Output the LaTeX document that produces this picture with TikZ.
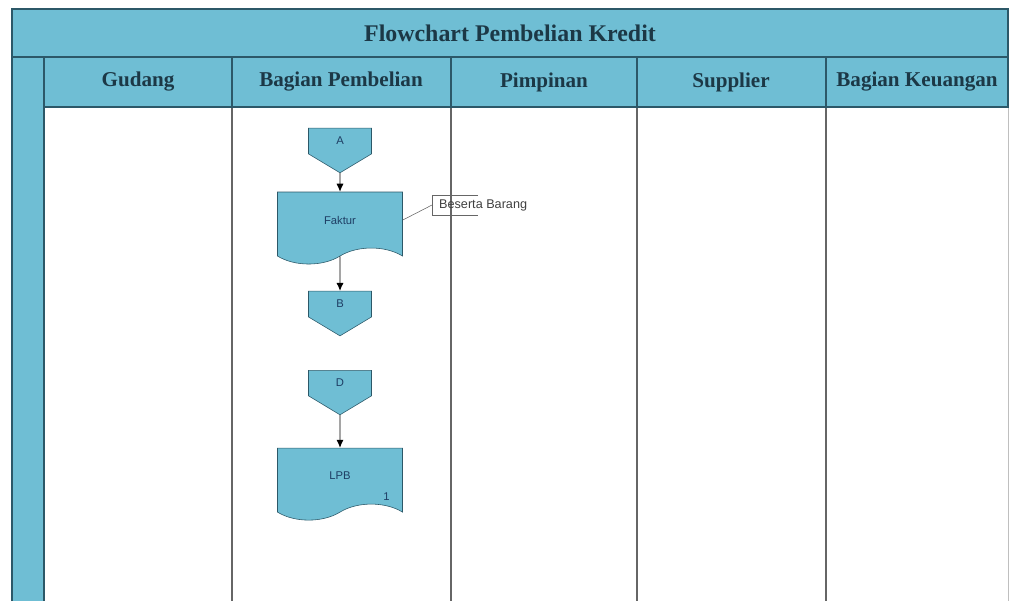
\documentclass[tikz,border=0pt]{standalone}
\usepackage{fontspec}
\setmainfont{Liberation Sans}
\newfontfamily\headfont{Liberation Serif}
\usetikzlibrary{positioning,shapes.symbols,arrows.meta}
\definecolor{laneblue}{RGB}{111,190,212}
\definecolor{laneedge}{RGB}{44,88,104}
\definecolor{headtext}{RGB}{28,56,70}
\definecolor{shapetext}{RGB}{30,62,100}

\begin{document}
\begin{tikzpicture}[x=0.025cm, y=-0.025cm, node distance=2.05cm, on grid, semithick,
    lane/.style={font=\headfont\bfseries\fontsize{15}{17}\selectfont, text=headtext},
    offpage/.style={signal, signal to=south, signal pointer angle=118, draw=laneedge, thin, fill=laneblue, minimum width=1.575cm, minimum height=0.7cm, inner sep=0pt, font=\fontsize{8}{9}\selectfont, text=shapetext},
    doc/.style={tape, tape bend top=none, tape bend bottom=in and out, tape bend height=0.4cm, draw=laneedge, thin, fill=laneblue, minimum width=3.125cm, minimum height=1.8cm, font=\fontsize{8}{9}\selectfont, text=shapetext},
    note/.style={font=\fontsize{9}{10}\selectfont, text=black!75, anchor=west, minimum height=0.475cm, inner sep=0pt},
    flow/.style={-{Latex[length=2mm,width=1.8mm]}, black, line width=0.7pt},
    pool/.style={color=black!60, line width=0.8pt}]
\useasboundingbox (0,0) rectangle (1012,601);
\fill[laneblue] (12,9) rectangle (1008,107);
\fill[laneblue] (12,107) rectangle (44,601);
\draw[pool] (232,107) -- (232,601);
\draw[pool] (451,107) -- (451,601);
\draw[pool] (637,107) -- (637,601);
\draw[pool] (826,107) -- (826,601);
\draw[color=black!25, line width=0.6pt] (1008,107) -- (1008,601);
\draw[laneedge, line width=1pt] (12,601) -- (12,9) -- (1008,9) -- (1008,107) -- (44,107);
\draw[laneedge, line width=1pt] (12,57) -- (1008,57);
\draw[laneedge, line width=1pt] (44,57) -- (44,601);
\draw[laneedge, line width=1pt] (232,57) -- (232,107);
\draw[laneedge, line width=1pt] (451,57) -- (451,107);
\draw[laneedge, line width=1pt] (637,57) -- (637,107);
\draw[laneedge, line width=1pt] (826,57) -- (826,107);
\node[lane, font=\headfont\bfseries\fontsize{17}{19}\selectfont] (title) at (510,33) {Flowchart Pembelian Kredit};
\node[lane] (gudang) at (138,82) {Gudang};
\node[lane] (pembelian) at (341,82) {Bagian Pembelian};
\node[lane] (pimpinan) at (544,82) {Pimpinan};
\node[lane] (supplier) at (731,82) {Supplier};
\node[lane] (keuangan) at (917,82) {Bagian Keuangan};
\node[offpage] (A) at (340,141) {A};
\node[doc] (faktur)[below=1.975cm of A]{Faktur};
\node[offpage] (B)[below=2.1cm of faktur]{B};
\node[offpage] (D)[below=1.975cm of B]{D};
\node[doc] (lpb)[below=2.325cm of D]{LPB};
\node[font=\fontsize{8}{9}\selectfont, text=shapetext] (lpbno)[below left=0.3cm and 0.2cm of lpb.east]{1};
\node[note] (beserta) at (432,205) {\hspace{8\pgflinewidth}Beserta Barang};
\draw[black!60, thin] (beserta.north west) ++(46,0) -- (beserta.north west) -- (beserta.south west) -- ++(46,0);
\draw[black!60, thin] (faktur.east) -- (beserta.west);
\draw[flow] (A) -- (faktur);
\draw[flow] (faktur) -- (B);
\draw[flow] (D) -- (lpb);
\end{tikzpicture}
\end{document}
